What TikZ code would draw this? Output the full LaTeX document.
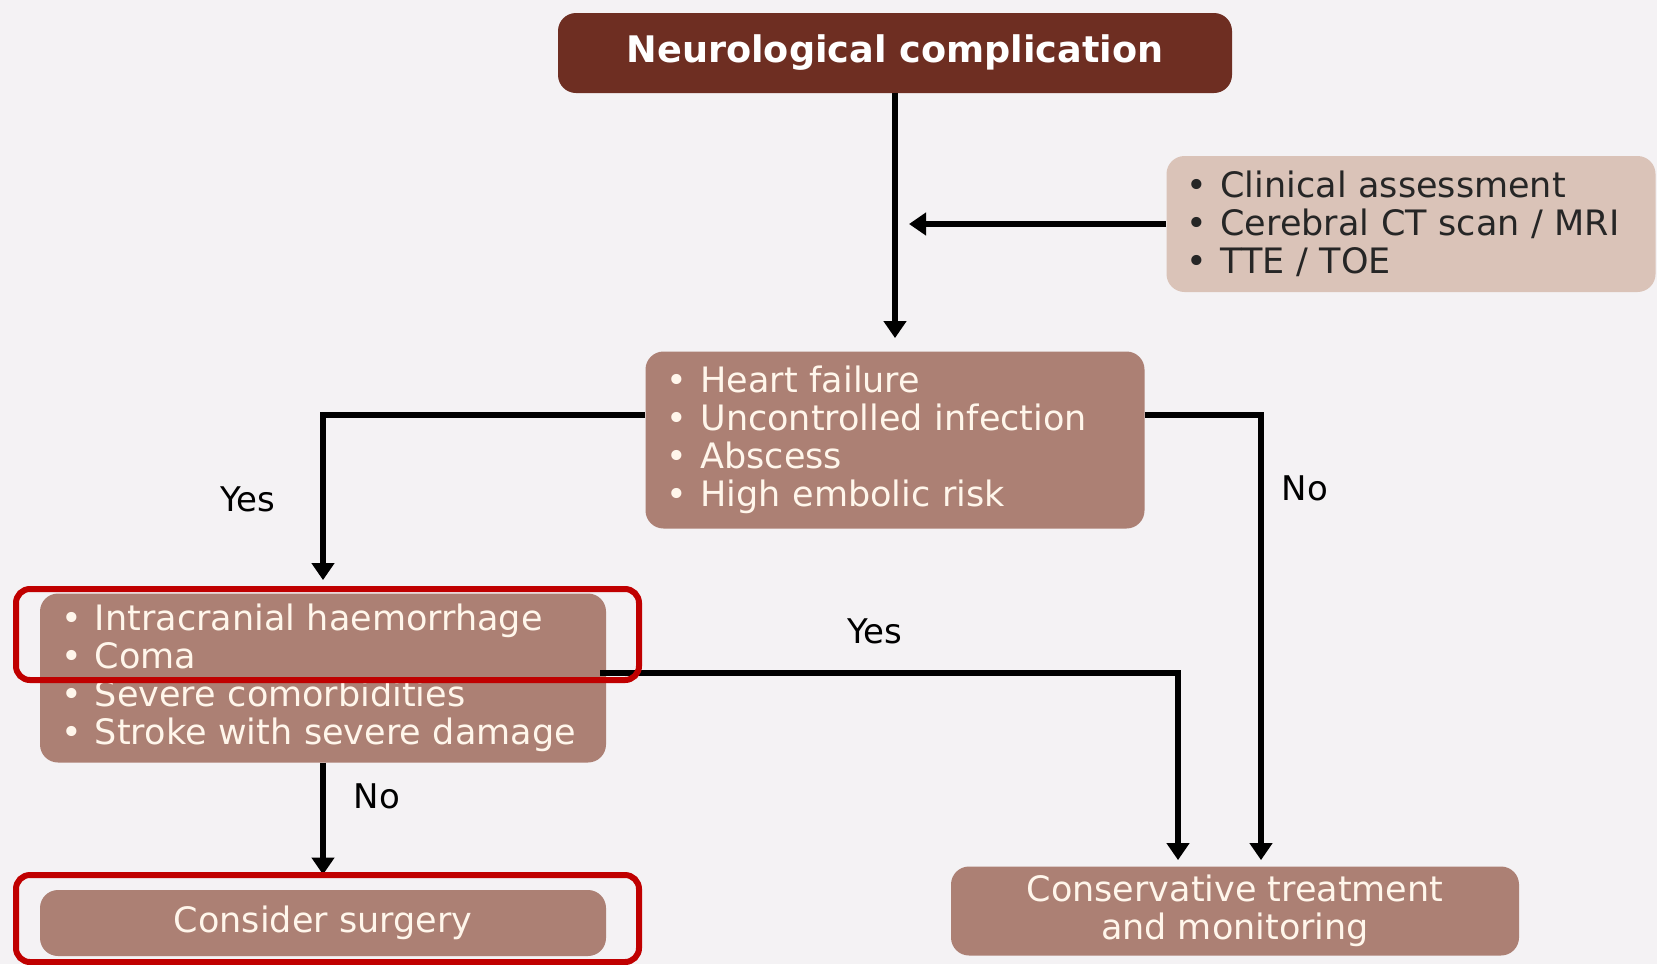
\documentclass[tikz,border=0pt]{standalone}
\usepackage{fontspec}
\setmainfont{DejaVu Sans}
\usepackage{tikz}
\usetikzlibrary{arrows.meta}
\definecolor{bgcol}{RGB}{244,242,244}
\definecolor{topbrown}{RGB}{110,46,34}
\definecolor{boxbrown}{RGB}{172,128,116}
\definecolor{sidebeige}{RGB}{218,195,184}
\definecolor{cream}{RGB}{255,246,235}
\definecolor{hlred}{RGB}{192,0,0}
\newcommand{\bul}{\makebox[17pt][l]{•}}

\begin{document}
\begin{tikzpicture}[x=0.5pt,y=-0.5pt,
  arr/.style={line width=3pt,-{Triangle[width=11pt,length=8.5pt]}},
  box/.style={fill=boxbrown,rounded corners=9pt,text=cream,inner xsep=10.5pt,inner ysep=0pt,
    font=\fontsize{17.5}{19}\selectfont},
  lst/.style={box,align=left},
  hl/.style={draw=hlred,line width=3pt,rounded corners=7pt,inner sep=0pt},
  lbl/.style={font=\fontsize{17}{19}\selectfont}]
  \useasboundingbox (0,0) rectangle (1657,964);
  \fill[bgcol] (0,0) rectangle (1657,964);

  \node[box,fill=topbrown,text=white,minimum width=337pt,minimum height=40pt,
    font=\fontsize{18.3}{20}\selectfont\bfseries] (top) at (895,53) {Neurological complication};
  \node[lst,fill=sidebeige,text=black!85,text width=224.5pt,minimum height=68pt,inner xsep=10pt] (side) at (1411,224)
    {\bul Clinical assessment\\ \bul Cerebral CT scan / MRI\\ \bul TTE / TOE};
  \node[lst,text width=228.5pt,minimum height=88.5pt] (mid) at (895,440)
    {\bul Heart failure\\ \bul Uncontrolled infection\\ \bul Abscess\\ \bul High embolic risk};
  \node[lst,text width=262pt,minimum height=84.5pt] (left) at (323,678)
    {\bul Intracranial haemorrhage\\ \bul Coma\\ \bul Severe comorbidities\\ \bul Stroke with severe damage};
  \node[box,minimum width=283pt,minimum height=33pt] (surg) at (323,923) {Consider surgery};
  \node[box,align=center,minimum width=284pt,minimum height=44.5pt] (cons) at (1235,911)
    {Conservative treatment\\ and monitoring};

  \draw[arr,shorten >=6.5pt] (top.south) -- (mid.north);
  \draw[arr,shorten >=7pt] (side.west) -- (side.west -| top.south);
  \draw[arr,shorten >=6.5pt] ([yshift=12.5pt]mid.west) -| (left.north);
  \draw[arr,shorten >=3pt] ([yshift=12.5pt]mid.east) -| ([xshift=13pt]cons.north);
  \draw[arr,shorten >=3pt] ([yshift=2.5pt,xshift=-3pt]left.east) -| ([xshift=-28.5pt]cons.north);
  \draw[arr,shorten >=7.5pt] (left.south) -- (surg.north);

  \node[lbl] (yes1) at (248,499) {Yes};
  \node[lbl] (no1) at (1305,488) {No};
  \node[lbl] (yes2) at (875,631) {Yes};
  \node[lbl] (no2) at (377,796) {No};

  \node[hl,minimum width=311.5pt,minimum height=45.5pt] (hl1) at (327.5,634.5) {};
  \node[hl,minimum width=311.5pt,minimum height=43.5pt] (hl2) at (327.5,918.5) {};
\end{tikzpicture}
\end{document}
